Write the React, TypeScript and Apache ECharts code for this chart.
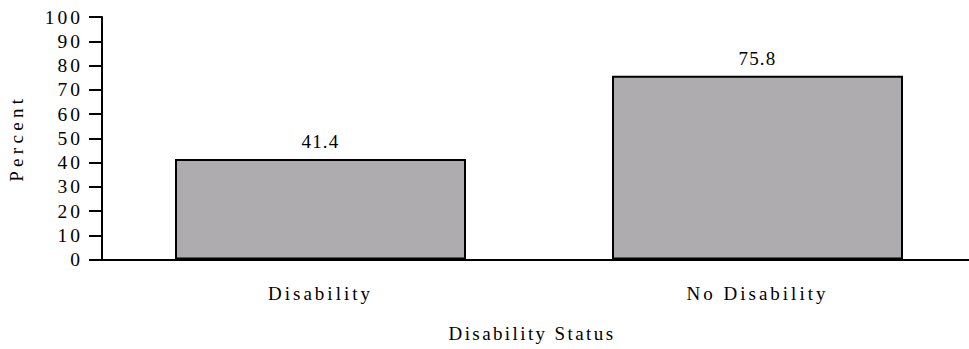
import React, { useEffect, useRef } from "react";
import * as echarts from "echarts";

const categories = ["Disability", "No Disability"];
const percentValues = [41.4, 75.8];
const yAxisTitle = "Percent";
const xAxisTitle = "Disability Status";

const FONT = "'Liberation Serif', 'Times New Roman', serif";

export default function App() {
  const ref = useRef<HTMLDivElement>(null);
  useEffect(() => {
    document.body.style.margin = "0";
    const chart = echarts.init(ref.current!, null, { renderer: "svg" });
    chart.setOption({
      animation: false,
      textStyle: { fontFamily: FONT },
      grid: {
        left: 102,
        top: 17,
        width: 874,
        height: 242.5,
        containLabel: false,
        outerBoundsMode: "none",
      },
      xAxis: {
        type: "category",
        data: categories,
        name: xAxisTitle,
        nameLocation: "middle",
        nameGap: 64,
        nameTextStyle: {
          fontFamily: FONT,
          fontSize: 19,
          color: "#000",
          verticalAlign: "top",
          padding: [0, 14, 0, 0],
        },
        axisLine: { lineStyle: { color: "#000", width: 2 } },
        axisTick: { alignWithLabel: true, length: 14, lineStyle: { color: "#000", width: 2 } },
        axisLabel: { fontFamily: FONT, fontSize: 19, color: "#000", margin: 24 },
      },
      yAxis: {
        type: "value",
        min: 0,
        max: 100,
        interval: 10,
        name: yAxisTitle,
        nameLocation: "middle",
        nameGap: 76,
        nameRotate: 90,
        nameTextStyle: { fontFamily: FONT, fontSize: 19, color: "#000" },
        axisLine: { show: true, lineStyle: { color: "#000", width: 2 } },
        axisTick: { show: true, length: 13, lineStyle: { color: "#000", width: 2 } },
        axisLabel: { fontFamily: FONT, fontSize: 19.5, color: "#000", margin: 19 },
        splitLine: { show: false },
      },
      series: [
        {
          type: "bar",
          data: percentValues,
          barWidth: 291,
          silent: true,
          emphasis: { disabled: true },
          itemStyle: { color: "#aeacaf", borderColor: "#000", borderWidth: 2 },
          label: {
            show: true,
            position: "top",
            distance: 8,
            fontFamily: FONT,
            fontSize: 19,
            color: "#000",
            formatter: (p: any) => p.value.toFixed(1),
          },
        },
      ],
    });
    const spacingFor = (t: string) => {
      if (t === yAxisTitle) return 4.3;
      if (t === xAxisTitle) return 2.4;
      if (/^\d+\.\d$/.test(t)) return 1.2;
      return 3;
    };
    ref.current!.querySelectorAll("text").forEach((el) => {
      const t = (el.textContent || "").trim();
      el.setAttribute("letter-spacing", String(spacingFor(t)));
    });
    return () => chart.dispose();
  }, []);
  return (
    <>
      <style>{`#chart-box svg text { font-family: "Liberation Serif", "Times New Roman", serif !important; }`}</style>
      <div id="chart-box" ref={ref} style={{ width: 969, height: 349, position: "absolute", left: 0, top: 0 }} />
    </>
  );
}
